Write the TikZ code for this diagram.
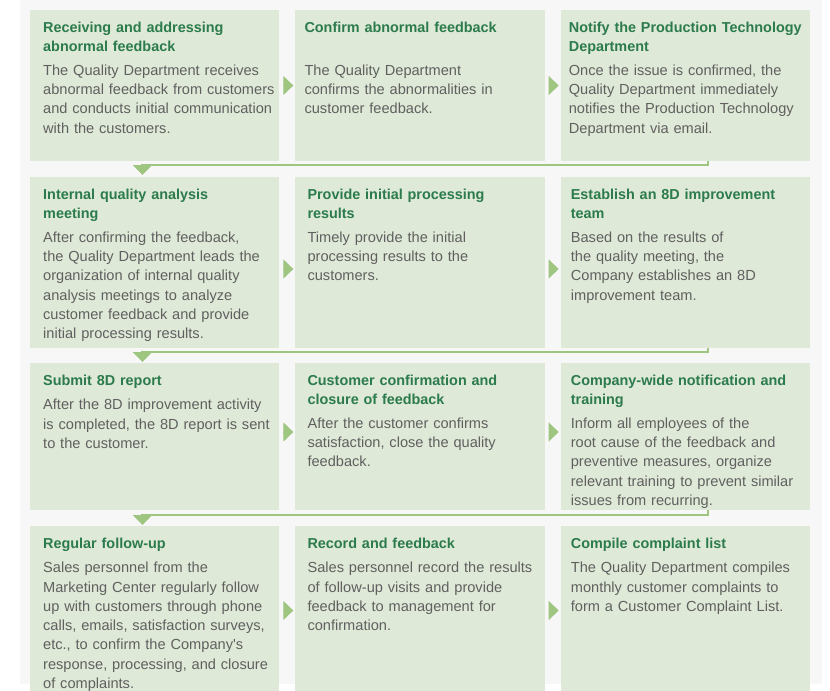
\documentclass[tikz,border=0pt]{standalone}
\usepackage{fontspec}
\setmainfont{Liberation Sans}
\usepackage{xcolor}
\usetikzlibrary{positioning,arrows.meta}
\definecolor{bggray}{HTML}{F7F7F7}
\definecolor{boxgreen}{HTML}{DFE9D7}
\definecolor{titlegreen}{HTML}{2B7B4C}
\definecolor{bodygray}{HTML}{606060}
\definecolor{linkgreen}{HTML}{9EC681}
\newcommand{\stagehead}[1]{{\bfseries\color{titlegreen}\fontsize{14.4bp}{18.5bp}\selectfont #1\par}\vspace{4.8bp}}

\begin{document}
\begin{tikzpicture}[
  x=1bp, y=-1bp,
  node distance=16bp and 16bp,
  box/.style={fill=boxgreen, minimum width=249.33bp, inner sep=0pt, outer sep=0pt},
  txt/.style={anchor=north west, inner sep=0pt, text width=244bp, align=left, text=bodygray, font=\fontsize{14.6bp}{19.3bp}\selectfont},
  link/.style={linkgreen, line width=2bp, -{Triangle[width=19bp,length=10bp]}},
  side/.style={linkgreen, line width=1bp, -{Triangle[width=19bp,length=10bp]}}
]
\useasboundingbox (0,0) rectangle (830,691);
\fill[bggray] (20,0) rectangle (822,684);

% row 1
\node[box, minimum height=151bp, anchor=north west] (receive) at (30,10) {};
\node[box, minimum height=151bp, right=of receive] (confirm) {};
\node[box, minimum height=151bp, right=of confirm] (notify) {};
% row 2
\node[box, minimum height=171bp, below=of receive] (meeting) {};
\node[box, minimum height=171bp, right=of meeting] (initial) {};
\node[box, minimum height=171bp, right=of initial] (team) {};
% row 3
\node[box, minimum height=147bp, below=15bp of meeting] (report) {};
\node[box, minimum height=147bp, right=of report] (closure) {};
\node[box, minimum height=147bp, right=of closure] (training) {};
% row 4
\node[box, minimum height=166bp, below=of report] (followup) {};
\node[box, minimum height=166bp, right=of followup] (record) {};
\node[box, minimum height=166bp, right=of record] (compile) {};

\node[txt] (receive-txt) at ([xshift=13bp,yshift=-12bp]receive.north west)
  {\stagehead{Receiving and addressing\\abnormal feedback}The Quality Department receives\\abnormal feedback from customers\\and conducts initial communication\\with the customers.};
\node[txt] (confirm-txt) at ([xshift=9bp,yshift=-12bp]confirm.north west)
  {\stagehead{Confirm abnormal feedback\\~}The Quality Department\\confirms the abnormalities in\\customer feedback.};
\node[txt] (notify-txt) at ([xshift=8bp,yshift=-12bp]notify.north west)
  {\stagehead{Notify the Production Technology\\Department}Once the issue is confirmed, the\\Quality Department immediately\\notifies the Production Technology\\Department via email.};

\node[txt] (meeting-txt) at ([xshift=13bp,yshift=-12bp]meeting.north west)
  {\stagehead{Internal quality analysis\\meeting}After confirming the feedback,\\the Quality Department leads the\\organization of internal quality\\analysis meetings to analyze\\customer feedback and provide\\initial processing results.};
\node[txt] (initial-txt) at ([xshift=12bp,yshift=-12bp]initial.north west)
  {\stagehead{Provide initial processing\\results}Timely provide the initial\\processing results to the\\customers.};
\node[txt] (team-txt) at ([xshift=10bp,yshift=-12bp]team.north west)
  {\stagehead{Establish an 8D improvement\\team}Based on the results of\\the quality meeting, the\\Company establishes an 8D\\improvement team.};

\node[txt] (report-txt) at ([xshift=13bp,yshift=-12bp]report.north west)
  {\stagehead{Submit 8D report}After the 8D improvement activity\\is completed, the 8D report is sent\\to the customer.};
\node[txt] (closure-txt) at ([xshift=12bp,yshift=-12bp]closure.north west)
  {\stagehead{Customer confirmation and\\closure of feedback}After the customer confirms\\satisfaction, close the quality\\feedback.};
\node[txt] (training-txt) at ([xshift=10bp,yshift=-12bp]training.north west)
  {\stagehead{Company-wide notification and\\training}Inform all employees of the\\root cause of the feedback and\\preventive measures, organize\\relevant training to prevent similar\\issues from recurring.};

\node[txt] (followup-txt) at ([xshift=13bp,yshift=-12bp]followup.north west)
  {\stagehead{Regular follow-up}Sales personnel from the\\Marketing Center regularly follow\\up with customers through phone\\calls, emails, satisfaction surveys,\\etc., to confirm the Company\textquotesingle s\\response, processing, and closure\\of complaints.};
\node[txt] (record-txt) at ([xshift=12bp,yshift=-12bp]record.north west)
  {\stagehead{Record and feedback}Sales personnel record the results\\of follow-up visits and provide\\feedback to management for\\confirmation.};
\node[txt] (compile-txt) at ([xshift=10bp,yshift=-12bp]compile.north west)
  {\stagehead{Compile complaint list}The Quality Department compiles\\monthly customer complaints to\\form a Customer Complaint List.};

% arrows inside a row
\draw[side] ([xshift=4bp]receive.east) -- ([xshift=-2bp]confirm.west);
\draw[side] ([xshift=4bp]confirm.east) -- ([xshift=-2bp]notify.west);
\draw[side] ([xshift=4bp,yshift=-6.5bp]meeting.east) -- ([xshift=-2bp,yshift=-6.5bp]initial.west);
\draw[side] ([xshift=4bp,yshift=-6.5bp]initial.east) -- ([xshift=-2bp,yshift=-6.5bp]team.west);
\draw[side] ([xshift=4bp,yshift=4.5bp]report.east) -- ([xshift=-2bp,yshift=4.5bp]closure.west);
\draw[side] ([xshift=4bp,yshift=4.5bp]closure.east) -- ([xshift=-2bp,yshift=4.5bp]training.west);
\draw[side] ([xshift=4bp,yshift=-1.5bp]followup.east) -- ([xshift=-2bp,yshift=-1.5bp]record.west);
\draw[side] ([xshift=4bp,yshift=-1.5bp]record.east) -- ([xshift=-2bp,yshift=-1.5bp]compile.west);

% arrows from one row to the next
\draw[link] ([xshift=22.3bp]notify.south) -- ++(0,4) -| ([xshift=-12.2bp,yshift=2bp]meeting.north);
\draw[link] ([xshift=22.3bp]team.south) -- ++(0,4) -| ([xshift=-12.2bp,yshift=1bp]report.north);
\draw[link] ([xshift=22.3bp]training.south) -- ++(0,5) -| ([xshift=-12.2bp,yshift=1bp]followup.north);
\end{tikzpicture}
\end{document}
